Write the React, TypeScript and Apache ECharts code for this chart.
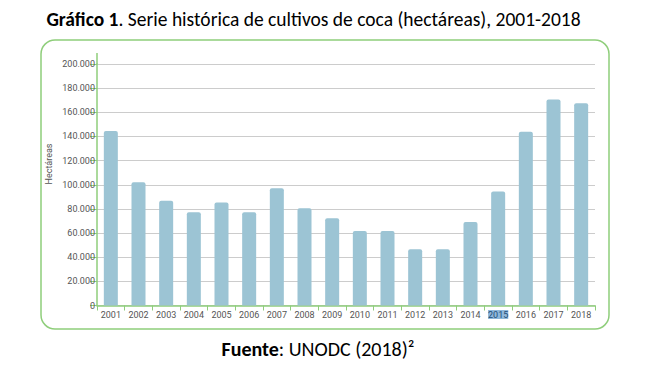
import React, { useEffect, useRef } from "react";
import * as echarts from "echarts";

const years = ["2001","2002","2003","2004","2005","2006","2007","2008","2009","2010","2011","2012","2013","2014","2015","2016","2017","2018"];
const hectares = [144500, 102000, 86800, 77200, 85400, 77200, 97000, 80500, 72200, 61700, 61700, 46500, 46500, 69100, 94500, 143900, 170700, 167400];
const yMax = 200000;
const yStep = 20000;
const highlightedYear = "2015";

const GREEN = "#8fce7b";
const BAR = "#9cc4d4";
const LABEL = "#555555";
const CAL = "Carlito, Calibri, 'Open Sans'";

function fmt(v: number): string {
  return String(v).replace(/\B(?=(\d{3})+(?!\d))/g, ".");
}

export default function App() {
  const ref = useRef<HTMLDivElement>(null);
  useEffect(() => {
    if (!ref.current) return;
    const chart = echarts.init(ref.current, undefined, { renderer: "svg" });
    chart.setOption({
      animation: false,
      backgroundColor: "#ffffff",
      grid: { left: 97, right: 56, top: 64, bottom: 70.5, containLabel: false },
      xAxis: {
        type: "category",
        data: years,
        axisLine: { show: true, lineStyle: { color: GREEN, width: 1.5 } },
        axisTick: { show: true, length: 5, lineStyle: { color: GREEN, width: 1 } },
        axisLabel: {
          interval: 0,
          margin: 4.5,
          color: LABEL,
          fontFamily: "Roboto",
          fontSize: 9,
          formatter: (v: string) => (v === highlightedYear ? `{sel|${v}}` : v),
          rich: {
            sel: {
              backgroundColor: "#8fb8db",
              color: "#1f4e79",
              fontFamily: "Roboto",
              fontSize: 9,
            },
          },
        },
      },
      yAxis: {
        type: "value",
        min: 0,
        max: yMax,
        interval: yStep,
        axisLine: { show: true, lineStyle: { color: GREEN, width: 1.5 } },
        axisTick: { show: true, length: 7, lineStyle: { color: GREEN, width: 1 } },
        axisLabel: {
          margin: 2,
          color: LABEL,
          fontFamily: "Roboto",
          fontSize: 9,
          formatter: (v: number) => fmt(v),
        },
        splitLine: { show: true, lineStyle: { color: "#cccccc", width: 1 } },
      },
      series: [
        {
          type: "bar",
          data: hectares,
          barWidth: 14,
          itemStyle: { color: BAR, borderRadius: [2, 2, 0, 0] },
        },
      ],
      graphic: [
        {
          type: "rect",
          shape: { x: 41, y: 40, width: 568, height: 289, r: 14 },
          style: { fill: "none", stroke: GREEN, lineWidth: 1.5 },
          silent: true,
        },
        {
          type: "line",
          shape: { x1: 97, y1: 53, x2: 97, y2: 64 },
          style: { stroke: GREEN, lineWidth: 1.5 },
          silent: true,
        },
        {
          type: "text",
          x: 49,
          y: 164,
          rotation: Math.PI / 2,
          style: {
            text: "Hectáreas",
            fill: LABEL,
            font: "9px Roboto",
            align: "center",
            verticalAlign: "middle",
          },
          silent: true,
        },
        {
          type: "text",
          x: 313.5,
          y: 19,
          style: {
            text: "{b|Gráfico 1}{n|. Serie histórica de cultivos de coca (hectáreas), 2001-2018}",
            align: "center",
            verticalAlign: "middle",
            rich: {
              b: { fontFamily: CAL, fontWeight: "bold", fontSize: 19.5, fill: "#000" },
              n: { fontFamily: CAL, fontSize: 19.5, fill: "#000" },
            },
          },
          silent: true,
        },
        {
          type: "text",
          x: 318,
          y: 349,
          style: {
            text: "{b|Fuente}{n|: UNODC (2018)²}",
            align: "center",
            verticalAlign: "middle",
            rich: {
              b: { fontFamily: CAL, fontWeight: "bold", fontSize: 20, fill: "#000" },
              n: { fontFamily: CAL, fontSize: 20, fill: "#000" },
            },
          },
          silent: true,
        },
      ],
    });
    return () => chart.dispose();
  }, []);
  return (
    <div
      ref={ref}
      style={{ position: "fixed", left: 0, top: 0, width: 651, height: 376, background: "#fff" }}
    />
  );
}
